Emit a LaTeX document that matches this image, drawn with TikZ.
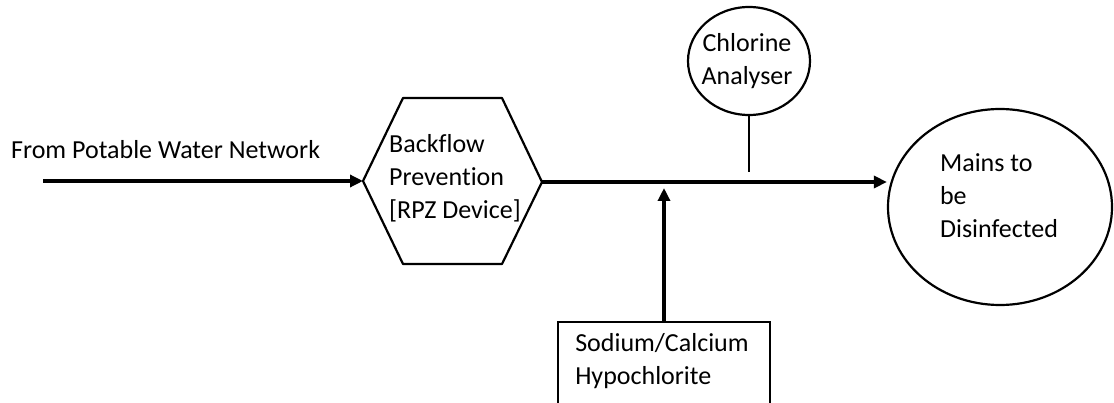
\documentclass[tikz,border=0pt]{standalone}
\usepackage{fontspec}
\setmainfont{Carlito}[Ligatures=NoCommon]
\usepackage{tikz}
\usetikzlibrary{calc}
\usetikzlibrary{shapes.geometric}
\usetikzlibrary{arrows.meta,positioning}

\begin{document}
\begin{tikzpicture}[
    x=1pt,y=-1pt,
    txt/.style={font=\fontsize{26}{33}\selectfont,align=left,inner sep=0pt},
    basic/.style={draw,line width=2.2pt},
    circ/.style={basic,ellipse,inner sep=0pt},
    pipe/.style={line width=3.4pt,-{Triangle[length=13pt,width=12pt]}},
]
    \clip (0,0) rectangle (1114,403);

    %inlet
    \coordinate (src) at (43,181);
    \node[txt,anchor=west] (srclbl) at (11,150) {From Potable Water Network};

    %backflow device
    \node[txt] (hex) at (455,178) {Backflow\\Prevention\\{[RPZ Device]}};
    \coordinate (hexw) at (363,181);
    \coordinate (hexe) at (542,182);
    \draw[basic,line join=round] (hexw) -- (403,98) -- (502,98) -- (hexe)
        -- (502,264) -- (403,264) -- cycle;

    %analyser
    \node[circ,minimum width=122pt,minimum height=108pt] (ana) at (749,61) {};
    \node[txt,align=center] (analbl) at (747,61) {Chlorine\\Analyser};
    \coordinate (tap) at (749,172);

    %dosing
    \node[basic,anchor=north,minimum width=212pt,minimum height=130pt] (dose) at (664,321) {};
    \node[txt] (doselbl) at (662,361) {Sodium/Calcium\\Hypochlorite};
    \coordinate (inj) at (664,188);

    %mains
    \node[circ,minimum width=224pt,minimum height=196pt] (mains) at (1000,207) {};
    \node[txt] (mainslbl) at (999,196) {Mains to\\be\\Disinfected};

    \draw[pipe] (src) -- (hexw);
    \draw[pipe] (hexe) -- (hexe -| mains.west);
    \draw[pipe] (dose.north) -- (inj);
    \draw[basic] (ana.south) -- (tap);
\end{tikzpicture}
\end{document}
